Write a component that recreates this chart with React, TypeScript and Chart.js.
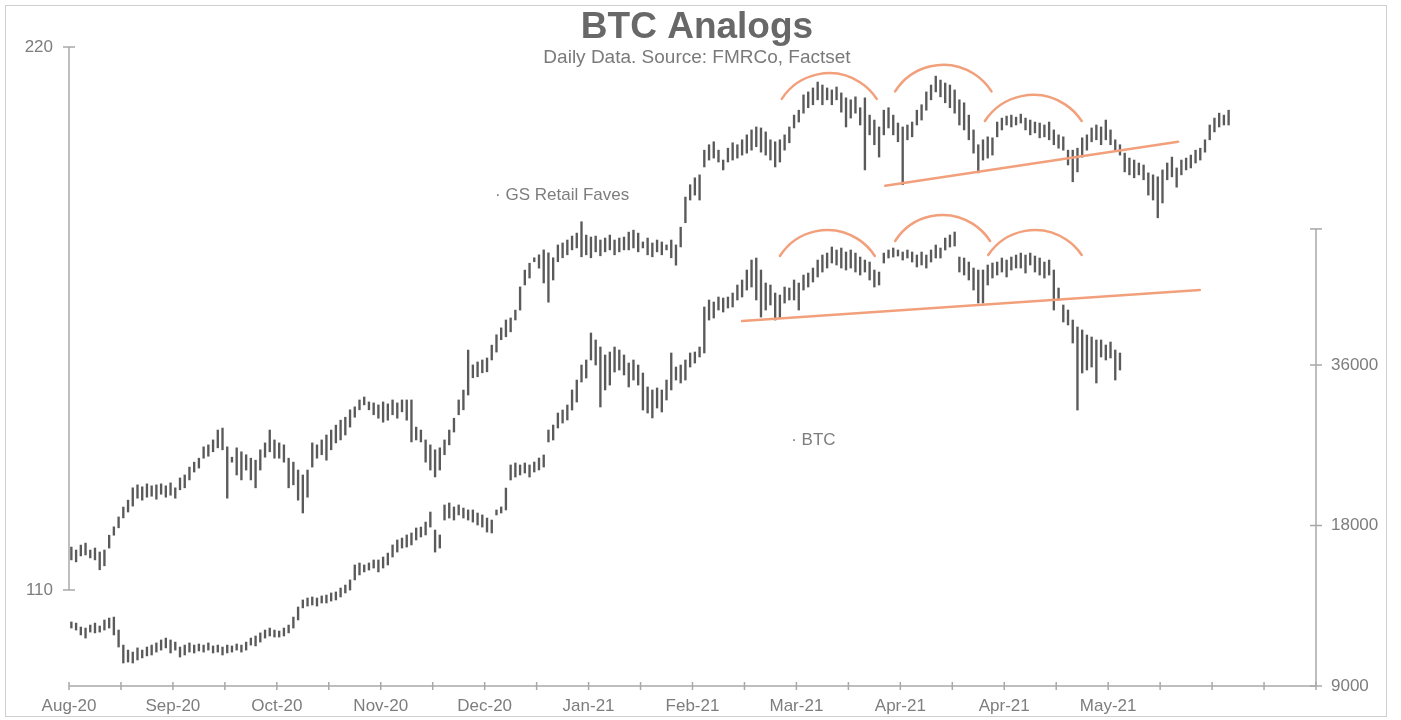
import { useEffect, useRef } from "react";
import { Chart, registerables } from "chart.js";

Chart.register(...registerables);

// ---------- DATA ----------
// GS Retail Faves daily bars (left axis)
const gsHigh = [
  118.7, 118.1, 119.1, 119.5, 118.1, 118.5, 117.7, 118.1, 121.1, 122.8,
  124.8, 126.8, 128.2, 130.7, 131.3, 130.9, 131.5, 131.1, 131.3, 131.5,
  131.1, 131.7, 130.7, 132.7, 133.3, 134.9, 135.9, 136.7, 139.0, 139.4,
  140.4, 142.4, 142.8, 139.0, 136.9, 138.8, 138.0, 137.4, 136.7, 136.3,
  138.4, 139.8, 142.4, 140.4, 139.8, 139.4, 136.7, 135.9, 134.3, 133.3,
  134.3, 139.8, 139.4, 140.4, 141.4, 142.4, 143.4, 144.4, 145.0, 146.5,
  147.1, 148.5, 149.1, 148.1, 147.9, 147.5, 148.1, 147.7, 148.5, 147.9,
  148.5, 148.5, 148.5, 143.0, 142.4, 140.4, 139.4, 138.4, 138.8, 140.4,
  142.4, 144.8, 148.5, 150.5, 158.6, 155.6, 156.2, 156.6, 157.0, 159.6,
  161.7, 163.1, 164.7, 165.1, 166.7, 171.4, 174.8, 176.2, 177.3, 177.9,
  178.9, 178.3, 177.3, 179.9, 180.3, 180.9, 181.7, 182.3, 184.6, 181.9,
  181.5, 181.7, 180.9, 181.3, 181.9, 180.9, 181.3, 181.5, 182.5, 182.9,
  182.3, 180.5, 181.3, 180.3, 180.9, 180.5, 179.9, 180.9, 179.9, 183.5,
  189.6, 192.1, 193.5, 194.1, 199.1, 200.2, 200.8, 199.1, 197.1, 199.5,
  200.6, 200.2, 201.2, 202.2, 203.2, 203.8, 203.6, 202.8, 201.2, 200.8,
  201.2, 202.2, 203.8, 206.2, 207.2, 210.3, 210.9, 211.7, 212.9, 212.3,
  211.7, 211.3, 211.9, 210.7, 209.7, 209.3, 209.9, 207.7, 209.7, 206.2,
  205.2, 203.8, 207.2, 207.7, 206.2, 204.6, 203.8, 204.2, 204.8, 207.2,
  208.3, 210.9, 212.3, 214.1, 213.3, 212.7, 212.3, 211.3, 209.3, 208.7,
  206.2, 203.2, 200.2, 201.2, 201.8, 201.6, 204.8, 205.6, 206.0, 206.2,
  205.8, 206.4, 205.6, 205.2, 204.8, 204.6, 204.2, 204.8, 203.2, 202.2,
  201.8, 199.1, 199.1, 199.5, 201.6, 202.2, 203.6, 204.2, 203.8, 205.2,
  203.2, 201.2, 200.2, 198.5, 197.5, 197.1, 196.5, 196.1, 194.5, 194.1,
  193.7, 195.1, 196.5, 197.7, 195.5, 197.1, 197.5, 198.1, 199.1, 199.5,
  201.2, 204.2, 205.6, 206.6, 206.2, 207.2,
];
const gsLow = [
  116.1, 115.7, 116.9, 117.1, 116.5, 116.1, 114.1, 114.9, 118.5, 121.1,
  122.6, 124.6, 125.8, 127.0, 128.6, 128.2, 128.8, 129.0, 128.4, 129.4,
  128.8, 129.2, 128.6, 130.3, 130.7, 132.3, 133.9, 134.7, 136.7, 137.1,
  138.0, 138.8, 138.4, 128.6, 135.9, 133.3, 132.3, 134.3, 132.3, 130.7,
  134.3, 136.9, 138.0, 136.7, 136.7, 135.9, 130.7, 131.3, 128.2, 125.6,
  128.8, 134.9, 136.7, 137.4, 136.3, 138.4, 139.8, 140.4, 141.4, 143.0,
  145.0, 146.5, 147.5, 146.5, 145.5, 144.8, 144.0, 144.4, 145.5, 144.8,
  146.1, 144.4, 140.0, 140.4, 140.0, 135.9, 134.3, 132.9, 134.3, 137.4,
  139.4, 142.0, 145.5, 146.5, 149.5, 153.0, 153.2, 154.0, 154.2, 156.6,
  158.2, 160.7, 161.3, 162.3, 164.7, 166.7, 171.8, 173.2, 176.5, 175.2,
  172.2, 168.3, 172.8, 176.5, 177.3, 177.9, 178.9, 179.3, 177.5, 177.9,
  177.3, 178.5, 177.7, 178.5, 178.9, 177.9, 178.5, 178.9, 178.9, 179.3,
  178.5, 179.3, 177.9, 177.5, 178.5, 177.9, 178.9, 177.3, 175.8, 179.5,
  184.4, 189.0, 190.0, 189.0, 195.7, 197.1, 197.5, 196.7, 195.1, 196.7,
  197.1, 197.5, 198.1, 198.5, 199.1, 199.8, 198.7, 198.1, 197.1, 195.7,
  196.7, 199.1, 200.6, 203.6, 204.8, 206.6, 207.7, 208.3, 209.3, 208.3,
  209.3, 208.3, 209.3, 206.8, 203.8, 205.6, 206.6, 204.2, 195.1, 202.2,
  200.2, 197.7, 202.2, 203.6, 202.2, 200.8, 192.1, 201.2, 201.8, 204.2,
  205.2, 207.2, 209.3, 210.9, 209.9, 208.7, 207.7, 206.6, 204.2, 203.2,
  201.2, 198.5, 194.5, 197.1, 197.5, 198.1, 201.8, 203.2, 204.2, 203.8,
  204.2, 204.6, 203.2, 202.2, 202.6, 201.6, 201.8, 201.2, 200.2, 199.5,
  199.1, 196.1, 192.7, 194.7, 197.7, 199.1, 200.8, 201.2, 200.2, 201.2,
  200.2, 199.1, 198.1, 194.7, 194.1, 193.5, 194.1, 193.1, 190.0, 189.0,
  185.4, 188.4, 193.1, 193.7, 191.6, 194.1, 195.1, 195.5, 196.5, 197.1,
  198.7, 201.2, 202.8, 203.8, 204.2, 204.2,
];

// BTC daily bars (right axis, log)
const btcHigh = [
  11870, 11810, 11610, 11560, 11710, 11810, 11660, 11970, 12070, 12120,
  11460, 10740, 10510, 10420, 10610, 10510, 10650, 10740, 10840, 10980,
  11070, 10980, 10880, 10650, 10740, 10840, 10740, 10790, 10740, 10840,
  10700, 10740, 10650, 10740, 10700, 10790, 10740, 10880, 11070, 11170,
  11320, 11460, 11560, 11460, 11410, 11560, 11710, 12120, 12660, 13050,
  13160, 13220, 13160, 13280, 13330, 13450, 13510, 13740, 13920, 14230,
  15180, 15310, 15180, 15310, 15510, 15510, 15710, 15980, 16550, 16910,
  17050, 17280, 17430, 17810, 17880, 18270, 19080, 17650, 17280, 19670,
  19840, 19500, 19670, 19410, 19250, 19250, 19000, 18840, 18590, 18430,
  19250, 19500, 21160, 23380, 23580, 23380, 23580, 23380, 23680, 24090,
  24410, 27190, 27780, 29260, 29640, 30290, 32320, 33740, 36000, 36790,
  41340, 40110, 38910, 37590, 38080, 38910, 38410, 37590, 36310, 36790,
  36000, 34780, 32740, 32320, 32600, 32320, 33740, 37920, 35690, 36000,
  36790, 37920, 38080, 38910, 46250, 47670, 47260, 48290, 48080, 48290,
  49130, 50860, 51970, 54260, 56650, 57150, 54260, 51300, 50860, 49130,
  48710, 50420, 50200, 51970, 51300, 53100, 53560, 54730, 56650, 57890,
  58390, 59930, 59160, 59670, 58650, 59160, 58390, 57390, 56650, 56170,
  54260, 53790, 58390, 59160, 59670, 59160, 58650, 59160, 58650, 57890,
  58650, 57890, 59160, 60450, 59670, 62300, 63110, 63940, 57390, 57150,
  56170, 54730, 54260, 54260, 55450, 55930, 56170, 57150, 56650, 57390,
  57890, 58390, 57890, 58390, 57640, 57150, 56170, 56650, 54260, 50200,
  46650, 45650, 43720, 42420, 41880, 40980, 40630, 40110, 40110, 39250,
  39760, 38410, 37920,
];
const btcLow = [
  11560, 11460, 11220, 11070, 11360, 11320, 11360, 11460, 11560, 11220,
  10650, 9940, 9980, 9940, 10070, 10160, 10250, 10290, 10420, 10510,
  10610, 10380, 10510, 10200, 10290, 10420, 10380, 10470, 10420, 10510,
  10380, 10420, 10290, 10380, 10420, 10510, 10420, 10510, 10740, 10700,
  10880, 11070, 11170, 11120, 11120, 11170, 11320, 11560, 11970, 12610,
  12710, 12770, 12710, 12880, 12880, 12990, 13050, 13220, 13450, 13620,
  14230, 14540, 14730, 14850, 14980, 14730, 14980, 15180, 15710, 16050,
  16330, 16400, 16550, 16910, 17130, 17280, 17880, 16050, 16330, 18430,
  18590, 18430, 18840, 18590, 18430, 18270, 18040, 17880, 17500, 17430,
  18840, 19000, 19250, 21910, 22190, 22390, 22580, 22190, 22680, 22880,
  23170, 25820, 26040, 27430, 28020, 28390, 29640, 30680, 33450, 34030,
  36790, 36000, 30030, 32320, 33020, 34930, 35230, 34480, 32740, 33740,
  33020, 29640, 29260, 28640, 29900, 29390, 30950, 32320, 33740, 33310,
  33740, 35690, 36310, 37270, 37920, 43720, 44100, 45650, 45260, 46050,
  46250, 47670, 48290, 49770, 50420, 47670, 44290, 45650, 46650, 43720,
  44100, 47050, 47670, 47670, 45650, 49770, 50420, 51520, 52650, 53790,
  54730, 55930, 55450, 54730, 54260, 54730, 53790, 53100, 53790, 51970,
  50420, 50860, 55930, 57150, 57390, 57640, 56650, 57150, 56170, 54970,
  55450, 54730, 56170, 57150, 57150, 59160, 59930, 60190, 53790, 53100,
  51970, 49770, 47050, 47050, 50860, 52420, 53100, 53790, 52650, 54260,
  54730, 54730, 53560, 55450, 53790, 53100, 52420, 53100, 45650, 47670,
  43350, 42790, 39590, 29640, 34780, 35230, 35690, 33310, 37270, 36790,
  37110, 33740, 35230,
];

// Axis ticks
const xTickStep = 11;
const xMax = 264;
const xTickLabels = [
  "Aug-20", "", "Sep-20", "", "Oct-20", "", "Nov-20", "", "Dec-20", "",
  "Jan-21", "", "Feb-21", "", "Mar-21", "", "Apr-21", "", "Apr-21", "",
  "May-21", "", "", "", "",
];
const leftTicks = [110, 220];
const rightTicks = [9000, 18000, 36000, 64800];
const rightTickLabels = ["9000", "18000", "36000", ""];

// Annotations: [xStart, xEnd, endValue, peakValue]
const gsArcs = [
  [150.9, 171.0, 209.5, 214.7],
  [174.9, 195.3, 211.0, 216.4],
  [193.9, 214.4, 205.0, 210.3],
];
const btcArcs = [
  [150.5, 170.6, 57640, 64490],
  [174.9, 195.0, 61500, 68810],
  [194.6, 214.4, 57890, 64490],
];
// [x1, value1, x2, value2]
const gsTrend = [172.8, 191.9, 234.8, 200.8];
const btcTrend = [142.5, 43530, 239.4, 49770];

// Series labels: [x, value]
const gsLabelPos = [90.2, 190.0];
const btcLabelPos = [152.9, 26040];

const TITLE = "BTC Analogs";
const SUBTITLE = "Daily Data. Source: FMRCo, Factset";

const FONT = '"Liberation Sans", Arial, sans-serif';
const AXIS_COLOR = "#a8a8a8";
const TEXT_COLOR = "#7d7d7d";
const BAR_COLOR = "#5a5a5a";
const ORANGE = "#f2a07c";

function drawArc(ctx: CanvasRenderingContext2D, xs: any, ys: any, a: number[]) {
  const x1 = xs.getPixelForValue(a[0]);
  const x2 = xs.getPixelForValue(a[1]);
  const yb = ys.getPixelForValue(a[2]);
  const yp = ys.getPixelForValue(a[3]);
  const c = (x2 - x1) / 2;
  const s = yb - yp;
  const R = (c * c + s * s) / (2 * s);
  const cx = (x1 + x2) / 2;
  const cy = yp + R;
  const a1 = Math.atan2(yb - cy, x1 - cx);
  const a2 = Math.atan2(yb - cy, x2 - cx);
  ctx.beginPath();
  ctx.arc(cx, cy, R, a1, a2, false);
  ctx.stroke();
}

const customPlugin = {
  id: "customDraw",
  beforeDraw(chart: any) {
    const { ctx } = chart;
    ctx.save();
    ctx.fillStyle = "#ffffff";
    ctx.fillRect(0, 0, chart.width, chart.height);
    ctx.strokeStyle = "#cfcfcf";
    ctx.lineWidth = 1;
    ctx.strokeRect(5.5, 5.5, 1381, 711);
    ctx.restore();
  },
  beforeDatasetsDraw(chart: any) {
    const { ctx, chartArea, scales } = chart;
    const xs = scales.x;
    const yl = scales.yL;
    const yr = scales.yR;
    ctx.save();
    ctx.strokeStyle = AXIS_COLOR;
    ctx.lineWidth = 1.5;
    ctx.fillStyle = TEXT_COLOR;
    ctx.font = `17px ${FONT}`;

    // X axis
    const yAxis = chartArea.bottom;
    const xa = xs.getPixelForValue(0);
    const xb = xs.getPixelForValue(xMax);
    ctx.beginPath();
    ctx.moveTo(xa, yAxis);
    ctx.lineTo(xb, yAxis);
    ctx.stroke();
    ctx.textAlign = "center";
    ctx.textBaseline = "middle";
    for (let k = 0; k * xTickStep <= xMax; k++) {
      const px = xs.getPixelForValue(k * xTickStep);
      ctx.beginPath();
      ctx.moveTo(px, yAxis - 4);
      ctx.lineTo(px, yAxis + 4);
      ctx.stroke();
      const lbl = xTickLabels[k];
      if (lbl) ctx.fillText(lbl, px, yAxis + 20);
    }

    // Left axis
    const lx = chartArea.left;
    ctx.beginPath();
    ctx.moveTo(lx, yl.getPixelForValue(leftTicks[leftTicks.length - 1]));
    ctx.lineTo(lx, yl.getPixelForValue(leftTicks[0]));
    ctx.stroke();
    ctx.textAlign = "right";
    for (const t of leftTicks) {
      const py = yl.getPixelForValue(t);
      ctx.beginPath();
      ctx.moveTo(lx - 6, py);
      ctx.lineTo(lx + 6, py);
      ctx.stroke();
      ctx.fillText(String(t), lx - 16, py);
    }

    // Right axis
    const rx = chartArea.right;
    ctx.beginPath();
    ctx.moveTo(rx, yr.getPixelForValue(rightTicks[rightTicks.length - 1]));
    ctx.lineTo(rx, yr.getPixelForValue(rightTicks[0]));
    ctx.stroke();
    ctx.textAlign = "left";
    rightTicks.forEach((t, i) => {
      const py = yr.getPixelForValue(t);
      ctx.beginPath();
      ctx.moveTo(rx - 6, py);
      ctx.lineTo(rx + 6, py);
      ctx.stroke();
      if (rightTickLabels[i]) ctx.fillText(rightTickLabels[i], rx + 15, py);
    });
    ctx.restore();
  },
  afterDatasetsDraw(chart: any) {
    const { ctx, scales } = chart;
    const xs = scales.x;
    const yl = scales.yL;
    const yr = scales.yR;
    ctx.save();
    ctx.strokeStyle = ORANGE;
    ctx.lineWidth = 2.5;
    ctx.lineCap = "round";
    gsArcs.forEach((a) => drawArc(ctx, xs, yl, a));
    btcArcs.forEach((a) => drawArc(ctx, xs, yr, a));
    ctx.beginPath();
    ctx.moveTo(xs.getPixelForValue(gsTrend[0]), yl.getPixelForValue(gsTrend[1]));
    ctx.lineTo(xs.getPixelForValue(gsTrend[2]), yl.getPixelForValue(gsTrend[3]));
    ctx.stroke();
    ctx.beginPath();
    ctx.moveTo(xs.getPixelForValue(btcTrend[0]), yr.getPixelForValue(btcTrend[1]));
    ctx.lineTo(xs.getPixelForValue(btcTrend[2]), yr.getPixelForValue(btcTrend[3]));
    ctx.stroke();

    // series labels
    ctx.fillStyle = TEXT_COLOR;
    ctx.font = `17px ${FONT}`;
    ctx.textAlign = "left";
    ctx.textBaseline = "middle";
    ctx.fillText("\u00b7 GS Retail Faves", xs.getPixelForValue(gsLabelPos[0]), yl.getPixelForValue(gsLabelPos[1]));
    ctx.fillText("\u00b7 BTC", xs.getPixelForValue(btcLabelPos[0]), yr.getPixelForValue(btcLabelPos[1]));

    // title
    ctx.textAlign = "center";
    ctx.textBaseline = "alphabetic";
    ctx.fillStyle = "#686868";
    ctx.font = `bold 37px ${FONT}`;
    ctx.fillText(TITLE, 697, 38);
    ctx.fillStyle = "#7a7a7a";
    ctx.font = `19px ${FONT}`;
    ctx.fillText(SUBTITLE, 697, 63);
    ctx.restore();
  },
};

export default function App() {
  const ref = useRef<HTMLCanvasElement>(null);
  useEffect(() => {
    if (!ref.current) return;
    const gsData = gsHigh.map((h, i) => ({ x: i + 0.5, y: [gsLow[i], h] }));
    const btcData = btcHigh.map((h, i) => ({ x: i + 0.5, y: [btcLow[i], h] }));
    const chart = new Chart(ref.current, {
      type: "bar",
      data: {
        datasets: [
          {
            label: "GS Retail Faves",
            data: gsData as any,
            xAxisID: "x",
            yAxisID: "yL",
            backgroundColor: BAR_COLOR,
            borderWidth: 0,
            barThickness: 1.7,
            grouped: false,
          } as any,
          {
            label: "BTC",
            data: btcData as any,
            xAxisID: "x",
            yAxisID: "yR",
            backgroundColor: BAR_COLOR,
            borderWidth: 0,
            barThickness: 1.7,
            grouped: false,
          } as any,
        ],
      },
      options: {
        responsive: false,
        devicePixelRatio: 1,
        animation: false,
        layout: { padding: { left: 69, right: 85, top: 47, bottom: 34 } },
        plugins: {
          legend: { display: false },
          tooltip: { enabled: false },
          title: { display: false },
        },
        scales: {
          x: { type: "linear", display: false, min: 0, max: xMax, offset: false },
          yL: { type: "linear", display: false, min: 90.553, max: 220 },
          yR: { type: "logarithmic", display: false, min: 9000, max: 142168 },
        },
      } as any,
      plugins: [customPlugin],
    });
    return () => chart.destroy();
  }, []);
  return (
    <div style={{ position: "fixed", left: 0, top: 0, width: 1401, height: 720, background: "#fff" }}>
      <canvas ref={ref} width={1401} height={720} style={{ display: "block", width: 1401, height: 720 }} />
    </div>
  );
}
